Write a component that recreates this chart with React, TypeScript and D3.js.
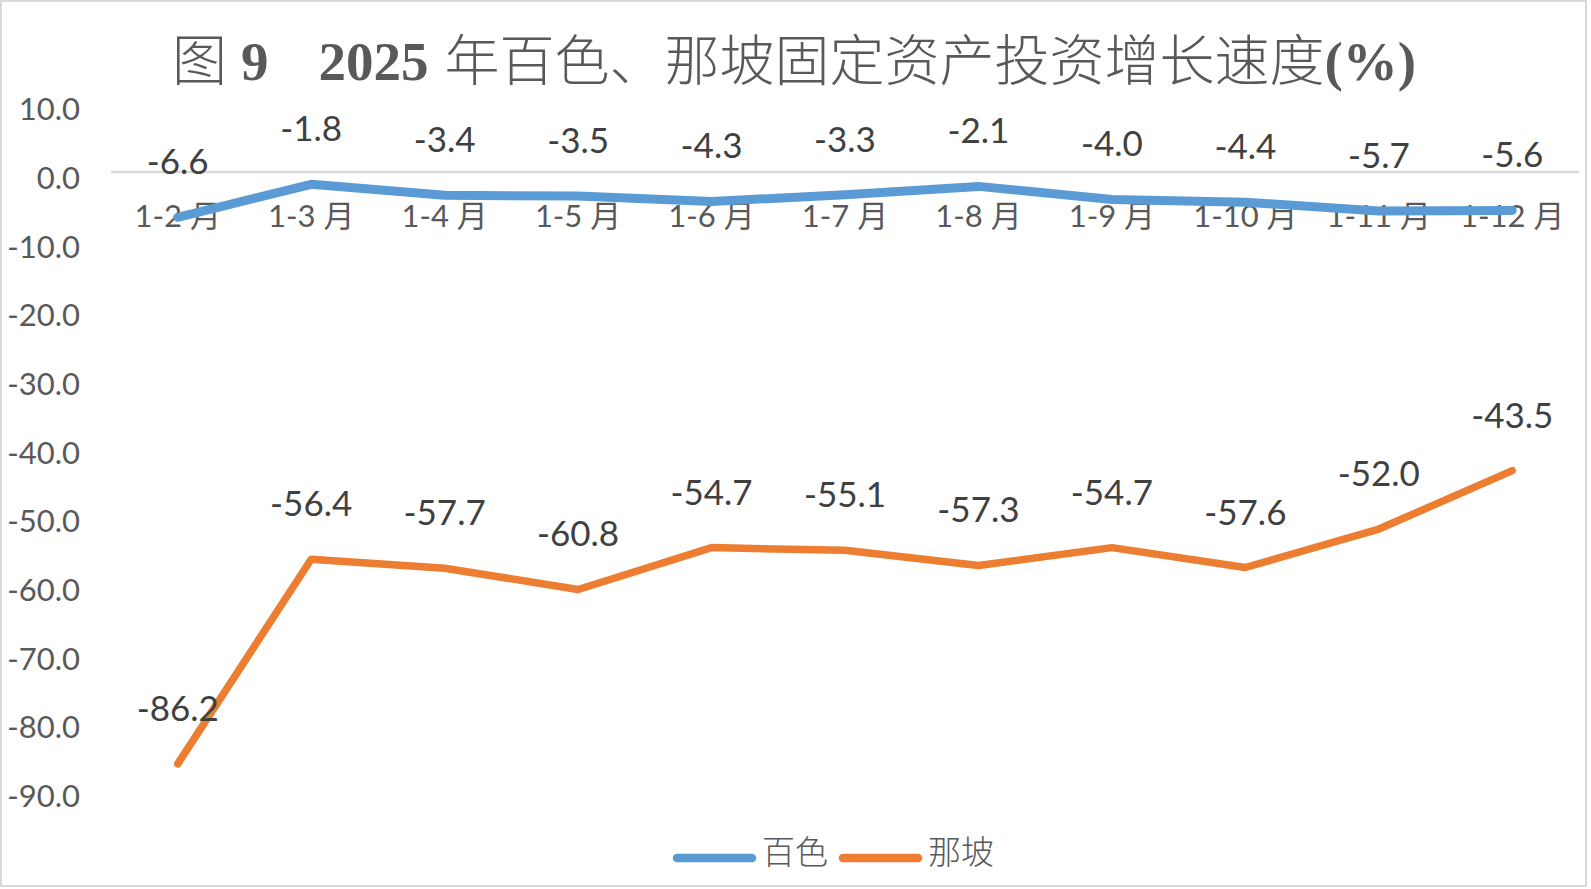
import * as d3 from 'd3';
import React from 'react';

// categories and series values
const months = ['1-2 月', '1-3 月', '1-4 月', '1-5 月', '1-6 月', '1-7 月', '1-8 月', '1-9 月', '1-10 月', '1-11 月', '1-12 月'];
const baise = [-6.6, -1.8, -3.4, -3.5, -4.3, -3.3, -2.1, -4.0, -4.4, -5.7, -5.6];
const napo = [-86.2, -56.4, -57.7, -60.8, -54.7, -55.1, -57.3, -54.7, -57.6, -52.0, -43.5];
const yTicks = [10, 0, -10, -20, -30, -40, -50, -60, -70, -80, -90];
const seriesNames = ['百色', '那坡'];

const W = 1591;
const H = 889;
const plot = { left: 111, right: 1579, top: 103.3, bottom: 790 };
const colors = ['#5B9BD5', '#ED7D31'];
const numFont = "Lato, 'Noto Sans CJK SC', sans-serif";
const cjkFont = "'Noto Sans CJK SC', Lato, sans-serif";

export default function App() {
  const x = d3.scaleBand<string>().domain(months).range([plot.left, plot.right]);
  const y = d3.scaleLinear().domain([-90, 10]).range([plot.bottom, plot.top]);
  const cx = (m: string) => (x(m) ?? 0) + x.bandwidth() / 2;

  const line = d3
    .line<number>()
    .x((_, i) => cx(months[i]))
    .y(d => y(d));

  const series = [baise, napo];

  return (
    <div style={{ position: 'absolute', left: 0, top: 0, background: '#fff' }}>
      <svg width={W} height={H} style={{ display: 'block' }}>
        <rect x={0} y={0} width={W} height={H} fill="#fff" />
        <rect x={1} y={1} width={1585} height={885} fill="none" stroke="#D9D9D9" strokeWidth={2} />

        {/* title */}
        <text
          x={794}
          y={80}
          textAnchor="middle"
          fontSize={55}
          fill="#595959"
          fontFamily="'Liberation Serif', 'Noto Sans CJK SC', serif"
        >
          <tspan fontWeight={300}>图</tspan>
          <tspan dx={14} fontWeight="bold">9</tspan>
          <tspan dx={50} fontWeight="bold">2025</tspan>
          <tspan dx={16} fontWeight={300}>年百色、那坡固定资产投资增长速度</tspan>
          <tspan fontWeight="bold">(%)</tspan>
        </text>

        {/* y axis labels */}
        {yTicks.map(t => (
          <text
            key={t}
            x={80}
            y={y(t) + 17}
            textAnchor="end"
            fontSize={31}
            fill="#595959"
            fontFamily={numFont}
          >
            {t.toFixed(1)}
          </text>
        ))}

        {/* zero line */}
        <line x1={plot.left} x2={plot.right} y1={y(0)} y2={y(0)} stroke="#D9D9D9" strokeWidth={2.5} />

        {/* category labels */}
        {months.map(m => (
          <text
            key={m}
            x={cx(m)}
            y={y(0) + 55}
            textAnchor="middle"
            fontSize={31}
            fill="#595959"
            fontFamily={numFont}
          >
            {m}
          </text>
        ))}

        {/* lines */}
        {series.map((s, i) => (
          <path
            key={i}
            d={line(s) ?? ''}
            fill="none"
            stroke={colors[i]}
            strokeWidth={i === 0 ? 9 : 7.5}
            strokeLinejoin="round"
            strokeLinecap="round"
          />
        ))}

        {/* data labels */}
        {series.map((s, i) =>
          s.map((v, j) => (
            <text
              key={`${i}-${j}`}
              x={cx(months[j])}
              y={y(v) - 43}
              textAnchor="middle"
              fontSize={35}
              fill="#404040"
              fontFamily={numFont}
            >
              {v.toFixed(1)}
            </text>
          ))
        )}

        {/* legend */}
        {seriesNames.map((n, i) => {
          const lx = i === 0 ? 677 : 843;
          return (
            <g key={n}>
              <line x1={lx} x2={lx + 75} y1={858} y2={858} stroke={colors[i]} strokeWidth={8.5} strokeLinecap="round" />
              <text x={lx + 85} y={864} fontSize={33} fontWeight={300} fill="#595959" fontFamily={cjkFont}>
                {n}
              </text>
            </g>
          );
        })}
      </svg>
    </div>
  );
}
